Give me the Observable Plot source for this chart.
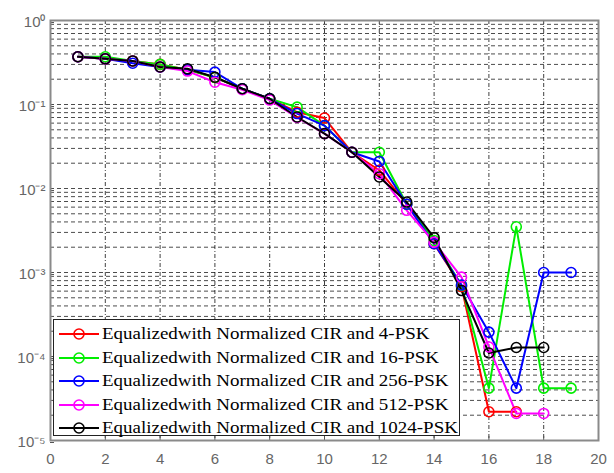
<!DOCTYPE html>
<html>
<head>
<meta charset="utf-8">
<script src="https://cdn.jsdelivr.net/npm/d3@7"></script>
<script src="https://cdn.jsdelivr.net/npm/@observablehq/plot@0.6"></script>
<style>
  html, body { margin: 0; padding: 0; background: #fff; }
  #wrap { position: relative; width: 614px; height: 473px; }
  #legend { position: absolute; left: 53px; top: 319px; width: 407px; height: 117px;
    background: #fff; border: 1.5px solid #222; box-sizing: border-box; }
  .row { position: absolute; left: 0; height: 24px; width: 100%; }
  .row svg { position: absolute; left: 3px; top: 0; }
  .row span { position: absolute; left: 48px; top: 2px; font-family: "Liberation Serif", "Times New Roman", serif;
    font-size: 17px; color: #000; white-space: nowrap; transform-origin: 0 50%; }
</style>
</head>
<body>
<div id="wrap"></div>
<script>
// ---- data ----
const snr = [1,2,3,4,5,6,7,8,9,10,11,12,13,14,15,16,17,18,19];
const seriesNames = [
  "Equalizedwith Normalized CIR and 4-PSK",
  "Equalizedwith Normalized CIR and 16-PSK",
  "Equalizedwith Normalized CIR and 256-PSK",
  "Equalizedwith Normalized CIR and 512-PSK",
  "Equalizedwith Normalized CIR and 1024-PSK"
];
const seriesColors = ["#ff0000", "#00ee00", "#0000ff", "#ff00ff", "#000000"];
const ber4psk    = [0.37,0.35,0.33,0.30,0.26,0.21,0.154,0.117,0.081,0.069,0.027,0.0165,0.0065,0.0022,0.00068,2.2e-5,2.2e-5];
const ber16psk   = [0.37,0.37,0.33,0.30,0.26,0.21,0.154,0.117,0.093,0.056,0.027,0.027,0.0065,0.0024,0.0007,4.2e-5,3.5e-3,4.2e-5,4.2e-5];
const ber256psk  = [0.37,0.35,0.31,0.28,0.26,0.243,0.154,0.117,0.078,0.056,0.027,0.021,0.0065,0.0022,0.00071,1.95e-4,4.2e-5,1.0e-3,1.0e-3];
const ber512psk  = [0.37,0.35,0.33,0.28,0.25,0.184,0.15,0.113,0.07,0.045,0.027,0.015,0.0055,0.0023,0.00088,1.3e-4,2.1e-5,2.1e-5];
const ber1024psk = [0.37,0.35,0.33,0.28,0.266,0.211,0.154,0.117,0.071,0.045,0.027,0.0137,0.0069,0.0026,0.00061,1.1e-4,1.28e-4,1.28e-4];
const xTicks = [0,2,4,6,8,10,12,14,16,18,20];
const yTicks = [1e-5,1e-4,1e-3,1e-2,1e-1,1];
const yTickLabels = ["10\u207B\u2075","10\u207B\u2074","10\u207B\u00B3","10\u207B\u00B2","10\u207B\u00B9","10\u2070"];

// ---- build table ----
const allSeries = [ber4psk, ber16psk, ber256psk, ber512psk, ber1024psk];
const data = [];
allSeries.forEach((vals, i) => vals.forEach((v, j) => data.push({x: snr[j], y: v, s: seriesNames[i]})));

// grid values (derived from axis ticks)
const gridY = [];
for (let e = -5; e < 0; e++) for (let k = 1; k <= 9; k++) gridY.push(k * Math.pow(10, e));
gridY.push(1);
const gridX = xTicks.slice(1, -1);
const yFmt = d => yTickLabels[yTicks.findIndex(t => Math.abs(Math.log10(t) - Math.log10(d)) < 1e-6)];

const chart = Plot.plot({
  width: 614, height: 473,
  marginLeft: 50, marginRight: 16, marginTop: 20, marginBottom: 33,
  style: { fontFamily: "Liberation Sans, Arial, sans-serif", fontSize: "15px", color: "#666", background: "#fff" },
  x: { domain: [0, 20], label: null },
  y: { type: "log", domain: [1e-5, 1], label: null },
  color: { domain: seriesNames, range: seriesColors },
  marks: [
    Plot.ruleY(gridY, { stroke: "#000", strokeOpacity: 0.7, strokeDasharray: "4,3", strokeWidth: 1 }),
    Plot.ruleX(gridX, { stroke: "#000", strokeOpacity: 0.75, strokeDasharray: "4,2,1,2", strokeWidth: 1 }),
    Plot.axisX({ ticks: xTicks, tickSize: -4, tickPadding: 17, stroke: "#555", fill: "#666", label: null }),
    Plot.axisY({ ticks: yTicks, tickSize: -4, tickPadding: 9, stroke: "#555", fill: "#666", label: null, tickFormat: yFmt, dy: 2 }),
    Plot.line(data, { x: "x", y: "y", z: "s", stroke: "s", strokeWidth: 2 }),
    Plot.dot(data, { x: "x", y: "y", stroke: "s", fill: "none", r: 5, strokeWidth: 1.6 }),
    Plot.frame({ stroke: "#8a8a8a", strokeWidth: 2 })
  ]
});
document.getElementById("wrap").appendChild(chart);

// ---- legend (HTML overlay) ----
const legend = document.createElement("div");
legend.id = "legend";
const ctx = document.createElement("canvas").getContext("2d");
ctx.font = '17px "Liberation Serif"';
const targetW = 356;
const baseW = ctx.measureText(seriesNames[4]).width;
const sx = targetW / baseW;
seriesNames.forEach((name, i) => {
  const row = document.createElement("div");
  row.className = "row";
  row.style.top = (2 + i * 23.6) + "px";
  row.innerHTML = `<svg width="44" height="24"><line x1="2" x2="42" y1="12" y2="12" stroke="${seriesColors[i]}" stroke-width="2"/><circle cx="22" cy="12" r="5" fill="none" stroke="${seriesColors[i]}" stroke-width="1.6"/></svg><span style="transform:scaleX(${sx.toFixed(3)})">${name}</span>`;
  legend.appendChild(row);
});
document.getElementById("wrap").appendChild(legend);
</script>
</body>
</html>
